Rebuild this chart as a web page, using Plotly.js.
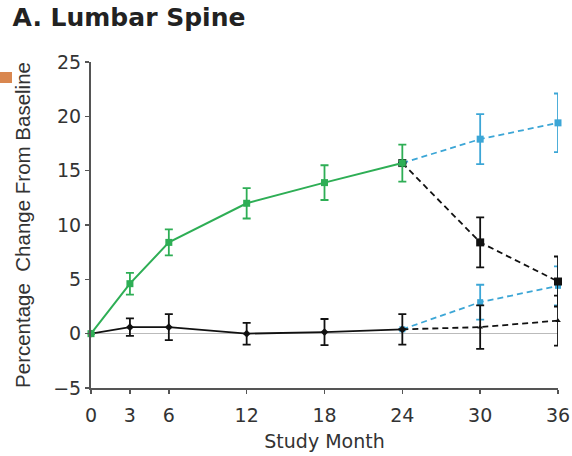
<!DOCTYPE html>
<html><head><meta charset="utf-8">
<script src="https://cdn.plot.ly/plotly-3.0.1.min.js"></script>
<style>html,body{margin:0;padding:0;background:#fff}#c{width:572px;height:456px}</style>
</head><body><div id="c"></div>
<script>
var months = [0, 3, 6, 12, 18, 24];
var extMonths = [24, 30, 36];

// Group 1 (green, solid) 0-24 months
var g1Values = [0, 4.6, 8.4, 12.0, 13.9, 15.7];
var g1Err    = [0, 1.0, 1.2, 1.4, 1.6, 1.7];
// Group 1 continuation: blue dashed and black dashed
var g1BlueValues = [15.7, 17.9, 19.4];
var g1BlueErr    = [0, 2.3, 2.7];
var g1BlackValues = [15.7, 8.4, 4.8];
var g1BlackErr    = [0, 2.3, 2.3];

// Group 2 (black, solid) 0-24 months
var g2Values = [0, 0.6, 0.6, 0.0, 0.15, 0.4];
var g2Err    = [0, 0.8, 1.2, 1.0, 1.2, 1.4];
// Group 2 continuation
var g2BlueValues = [0.4, 2.9, 4.4];
var g2BlueErr    = [0, 1.6, 1.8];
var g2BlackValues = [0.4, 0.6, 1.2];
var g2BlackErr    = [0, 2.0, 2.3];

var xTicks = [0, 3, 6, 12, 18, 24, 30, 36];
var yTicks = [-5, 0, 5, 10, 15, 20, 25];

var GREEN = '#2eae55', BLUE = '#3ca6d6', BLACK = '#111111';
var WIDE = 'DejaVu Sans, Verdana, sans-serif';

function tr(x, y, e, color, dash, sym, size, lw) {
  return {
    x: x, y: y, type: 'scatter', mode: 'lines+markers', cliponaxis: false,
    line: {color: color, width: lw, dash: dash},
    marker: {color: color, symbol: sym, size: size},
    error_y: {type: 'data', array: e, visible: true, color: color, thickness: 1.8, width: 4},
    hoverinfo: 'none', showlegend: false
  };
}

var data = [
  tr(extMonths, g2BlueValues, g2BlueErr, BLUE, '6px,4px', 'square', 6, 1.8),
  tr(extMonths, g2BlackValues, g2BlackErr, BLACK, '6px,4px', 'triangle-up', 5, 1.8),
  tr(months, g2Values, g2Err, BLACK, 'solid', 'diamond', 6, 1.8),
  tr(extMonths, g1BlueValues, g1BlueErr, BLUE, '6px,4px', 'square', 7, 1.8),
  tr(extMonths, g1BlackValues, g1BlackErr, BLACK, '6px,4px', 'square', 8, 1.8),
  tr(months, g1Values, g1Err, GREEN, 'solid', 'square', 7, 2)
];

var layout = {
  width: 572, height: 456,
  margin: {l: 91, r: 14, t: 62, b: 68},
  paper_bgcolor: '#fff', plot_bgcolor: '#fff',
  font: {family: WIDE, color: '#333', size: 15},
  title: {text: '<b>A. Lumbar Spine</b>', x: 0.022, xanchor: 'left', y: 0.962, yanchor: 'middle',
          font: {size: 25, color: '#222', family: WIDE}},
  xaxis: {
    range: [0, 36], tickvals: xTicks, ticktext: xTicks.map(String),
    showgrid: false, zeroline: false, showline: true, linecolor: '#555', linewidth: 2,
    ticks: 'outside', ticklen: 4, tickwidth: 1.5, tickcolor: '#555', ticklabelstandoff: 5,
    tickfont: {size: 19, color: '#333', family: WIDE},
    title: {text: 'Study Month', font: {size: 19, color: '#333', family: WIDE}, standoff: 10}
  },
  yaxis: {
    range: [-5, 25], tickvals: yTicks,
    showgrid: false, zeroline: true, zerolinecolor: '#bbbbbb', zerolinewidth: 1.2,
    showline: true, linecolor: '#555', linewidth: 2,
    ticks: 'outside', ticklen: 4, tickwidth: 1.5, tickcolor: '#555',
    tickfont: {size: 19, color: '#333', family: WIDE},
    title: {text: 'Percentage  Change From Baseline',
            font: {size: 20.5, color: '#333', family: 'Liberation Sans, Arial, sans-serif'}, standoff: 17}
  },
  shapes: [
    {type: 'rect', xref: 'paper', yref: 'paper', x0: -91/467, x1: -79/467, y0: (388-83)/326, y1: (388-72)/326,
     fillcolor: '#d9874f', line: {width: 0}, layer: 'below'}
  ]
};

Plotly.newPlot('c', data, layout, {displayModeBar: false, staticPlot: true});
</script>
</body></html>
